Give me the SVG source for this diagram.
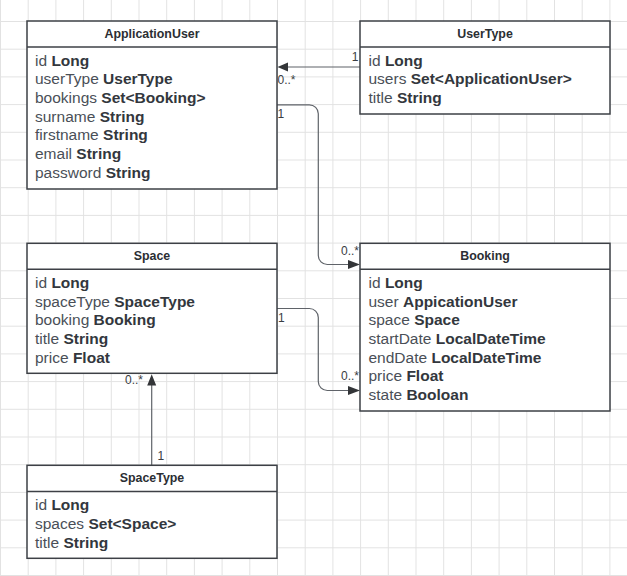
<svg xmlns="http://www.w3.org/2000/svg" width="627" height="576" viewBox="0 0 627 576">
<style>
.box{fill:#ffffff;stroke:#3d4046;stroke-width:1.5}
.sep{stroke:#3d4046;stroke-width:1.5}
.title{font-family:"Liberation Sans",Arial,sans-serif;font-size:12.4px;font-weight:bold;fill:#2b2e33;text-anchor:middle}
.attr{font-family:"Liberation Sans",Arial,sans-serif;font-size:15.5px;fill:#4a4f57}
.attr tspan{font-weight:bold;fill:#33373d}
.conn{fill:none;stroke:#5f6369;stroke-width:1.2}
.head{fill:#333538}
.lbl{font-family:"Liberation Sans",Arial,sans-serif;font-size:12px;fill:#3a3d42}
</style>
<defs>
<pattern id="grid" patternUnits="userSpaceOnUse" x="0" y="21" width="27.7" height="27.7">
<path d="M0.5 0V27.7M0 0.5H27.7" fill="none" stroke="#e2e2e2" stroke-width="1"/>
</pattern>
</defs>
<rect width="627" height="576" fill="#ffffff"/>
<rect width="627" height="576" fill="url(#grid)"/>

<g id="connectors">
<path class="conn" d="M360 67H287"/>
<path class="head" d="M277.5 67L288 62.5L288 71.5Z"/>
<path class="conn" d="M277 104.8H309.3A9 9 0 0 1 318.3 113.8V255.5A9 9 0 0 0 327.3 264.5H350"/>
<path class="head" d="M277 104.8L266 100L266 109.6Z"/>
<path class="head" d="M360 264.5L348 260L348 269Z"/>
<path class="conn" d="M277 308.5H309.3A9 9 0 0 1 318.3 317.5V381.5A9 9 0 0 0 327.3 390.5H350"/>
<path class="head" d="M360 390.5L348 386L348 395Z"/>
<path class="conn" d="M151.7 465.3V384"/>
<path class="head" d="M151.7 374.3L147.2 385.5L156.2 385.5Z"/>
<text class="lbl" x="358.5" y="60.5" text-anchor="end">1</text>
<text class="lbl" x="277.5" y="83.5">0..*</text>
<text class="lbl" x="277.5" y="118">1</text>
<text class="lbl" x="341" y="254.5">0..*</text>
<text class="lbl" x="278" y="322">1</text>
<text class="lbl" x="341" y="380">0..*</text>
<text class="lbl" x="125" y="384">0..*</text>
<text class="lbl" x="157.5" y="460">1</text>
</g>

<g id="ApplicationUser">
<rect class="box" x="27" y="21" width="250" height="168"/>
<line class="sep" x1="27" y1="47" x2="277" y2="47"/>
<text class="title" x="152" y="37.5">ApplicationUser</text>
<text class="attr" x="35" y="65.7">id <tspan>Long</tspan></text>
<text class="attr" x="35" y="84.4">userType <tspan>UserType</tspan></text>
<text class="attr" x="35" y="103">bookings <tspan>Set&lt;Booking&gt;</tspan></text>
<text class="attr" x="35" y="121.7">surname <tspan>String</tspan></text>
<text class="attr" x="35" y="140.4">firstname <tspan>String</tspan></text>
<text class="attr" x="35" y="159">email <tspan>String</tspan></text>
<text class="attr" x="35" y="177.7">password <tspan>String</tspan></text>
</g>

<g id="UserType">
<rect class="box" x="360" y="21" width="250" height="93"/>
<line class="sep" x1="360" y1="47" x2="610" y2="47"/>
<text class="title" x="485" y="37.5">UserType</text>
<text class="attr" x="368.5" y="65.7">id <tspan>Long</tspan></text>
<text class="attr" x="368.5" y="84.4">users <tspan>Set&lt;ApplicationUser&gt;</tspan></text>
<text class="attr" x="368.5" y="103">title <tspan>String</tspan></text>
</g>

<g id="Booking">
<rect class="box" x="360" y="243.3" width="250" height="167.7"/>
<line class="sep" x1="360" y1="269.3" x2="610" y2="269.3"/>
<text class="title" x="485" y="259.8">Booking</text>
<text class="attr" x="368.5" y="288">id <tspan>Long</tspan></text>
<text class="attr" x="368.5" y="306.7">user <tspan>AppicationUser</tspan></text>
<text class="attr" x="368.5" y="325.3">space <tspan>Space</tspan></text>
<text class="attr" x="368.5" y="344">startDate <tspan>LocalDateTime</tspan></text>
<text class="attr" x="368.5" y="362.7">endDate <tspan>LocalDateTime</tspan></text>
<text class="attr" x="368.5" y="381.3">price <tspan>Float</tspan></text>
<text class="attr" x="368.5" y="400">state <tspan>Booloan</tspan></text>
</g>

<g id="Space">
<rect class="box" x="27" y="243.3" width="250" height="130"/>
<line class="sep" x1="27" y1="269.3" x2="277" y2="269.3"/>
<text class="title" x="152" y="259.8">Space</text>
<text class="attr" x="35" y="288">id <tspan>Long</tspan></text>
<text class="attr" x="35" y="306.7">spaceType <tspan>SpaceType</tspan></text>
<text class="attr" x="35" y="325.3">booking <tspan>Booking</tspan></text>
<text class="attr" x="35" y="344">title <tspan>String</tspan></text>
<text class="attr" x="35" y="362.7">price <tspan>Float</tspan></text>
</g>

<g id="SpaceType">
<rect class="box" x="27" y="465.3" width="250" height="93"/>
<line class="sep" x1="27" y1="491.5" x2="277" y2="491.5"/>
<text class="title" x="152" y="481.8">SpaceType</text>
<text class="attr" x="35" y="510.2">id <tspan>Long</tspan></text>
<text class="attr" x="35" y="528.9">spaces <tspan>Set&lt;Space&gt;</tspan></text>
<text class="attr" x="35" y="547.5">title <tspan>String</tspan></text>
</g>
</svg>
